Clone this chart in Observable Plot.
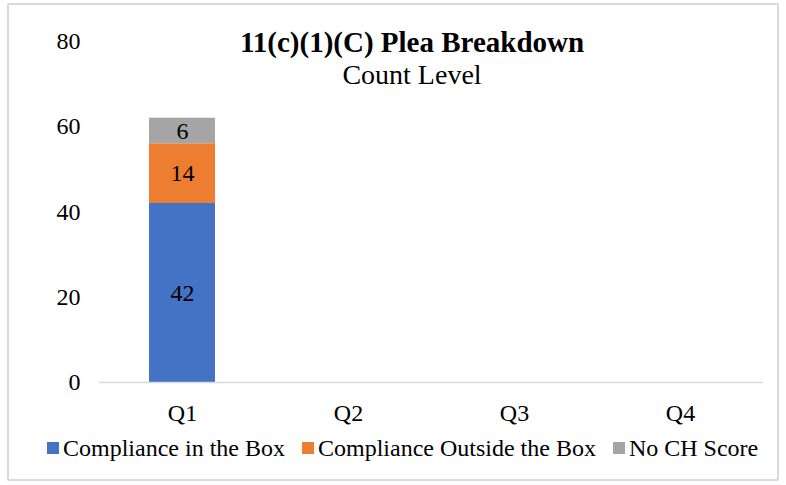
<!DOCTYPE html>
<html>
<head>
<meta charset="utf-8">
<script src="https://cdn.jsdelivr.net/npm/d3@7"></script>
<script src="https://cdn.jsdelivr.net/npm/@observablehq/plot@0.6"></script>
<style>
  html, body { margin: 0; padding: 0; background: #fff; }
  #wrap { position: relative; width: 786px; height: 485px; font-family: "Liberation Serif", "Times New Roman", serif; color: #000; }
  #border { position: absolute; left: 7px; top: 3px; width: 772px; height: 478px; border: 2px solid #d9d9d9; box-sizing: border-box; border-radius: 2px; }
  #chart { position: absolute; left: 0; top: 0; }
  #title { position: absolute; left: 212px; width: 400px; text-align: center; top: 26px; font-size: 29px; font-weight: bold; line-height: 32px; }
  #subtitle { position: absolute; left: 212px; width: 400px; text-align: center; top: 59px; font-size: 28px; line-height: 32px; }
  #legend { position: absolute; left: 47px; top: 434px; display: flex; align-items: center; font-size: 24px; line-height: 28px; white-space: nowrap; }
  .item { display: flex; align-items: center; margin-right: 17px; }
  .sw { width: 12px; height: 12px; margin-right: 4px; }
</style>
</head>
<body>
<div id="wrap">
  <div id="border"></div>
  <div id="chart"></div>
  <div id="title"></div>
  <div id="subtitle"></div>
  <div id="legend"></div>
</div>
<script>
const titleText = "11(c)(1)(C) Plea Breakdown";
const subtitleText = "Count Level";
const quarters = ["Q1", "Q2", "Q3", "Q4"];
const seriesNames = ["Compliance in the Box", "Compliance Outside the Box", "No CH Score"];
const seriesColors = ["#4472C4", "#ED7D31", "#A5A5A5"];
const complianceInBox = [42, 0, 0, 0];
const complianceOutsideBox = [14, 0, 0, 0];
const noCHScore = [6, 0, 0, 0];
const yTicks = [0, 20, 40, 60, 80];

const seriesValues = [complianceInBox, complianceOutsideBox, noCHScore];
const rows = [];
quarters.forEach((q, i) => {
  seriesNames.forEach((s, j) => {
    rows.push({quarter: q, series: s, value: seriesValues[j][i]});
  });
});

document.getElementById("title").textContent = titleText;
document.getElementById("subtitle").textContent = subtitleText;

const chart = Plot.plot({
  width: 786,
  height: 485,
  marginLeft: 99,
  marginRight: 23,
  marginTop: 41,
  marginBottom: 103,
  style: {fontFamily: "Liberation Serif, Times New Roman, serif", fontSize: "24px", color: "#000", background: "transparent"},
  x: {domain: quarters, paddingInner: 0.6, paddingOuter: 0.3},
  y: {domain: [0, 80]},
  color: {domain: seriesNames, range: seriesColors},
  marks: [
    Plot.axisY({ticks: yTicks, tickSize: 0, tickPadding: 19, label: null, fontSize: 24}),
    Plot.axisX({tickSize: 0, tickPadding: 21, label: null, fontSize: 24}),
    Plot.barY(rows, {x: "quarter", y: "value", fill: "series", order: seriesNames}),
    Plot.ruleY([0], {stroke: "#d9d9d9", strokeWidth: 1.5}),
    Plot.text(rows, Plot.stackY({x: "quarter", y: "value", z: "series", order: seriesNames, text: d => d.value > 0 ? String(d.value) : "", fill: "#000", fontSize: 24}))
  ]
});
document.getElementById("chart").appendChild(chart);

const legend = document.getElementById("legend");
seriesNames.forEach((s, j) => {
  const item = document.createElement("div");
  item.className = "item";
  const sw = document.createElement("div");
  sw.className = "sw";
  sw.style.background = seriesColors[j];
  const label = document.createElement("span");
  label.textContent = s;
  item.appendChild(sw);
  item.appendChild(label);
  legend.appendChild(item);
});
</script>
</body>
</html>
